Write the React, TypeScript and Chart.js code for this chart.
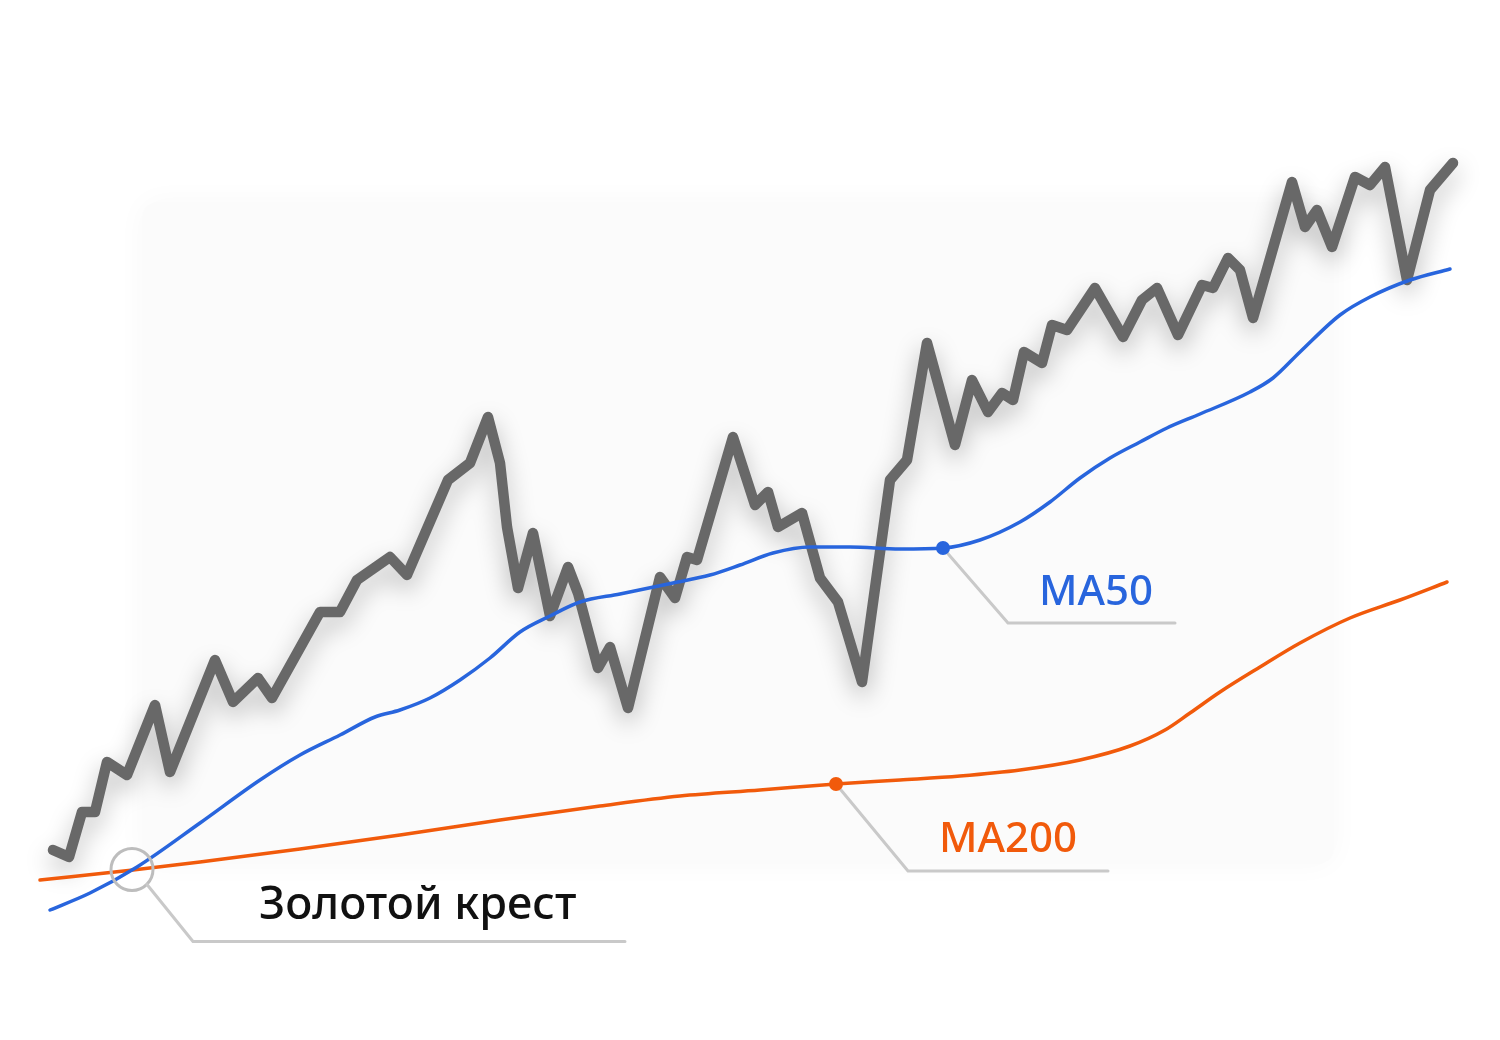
import React, { useEffect, useRef } from "react";
import { Chart, registerables } from "chart.js";

Chart.register(...registerables);

// Price (day, price)
const priceDays = [5.3, 6.9, 8.2, 9.5, 10.7, 12.7, 15.5, 17.0, 21.5, 23.3, 25.8, 27.2, 32.0, 34.0, 35.7, 39.0, 40.7, 44.8, 47.0, 48.8, 50.0, 50.7, 51.8, 53.3, 55.0, 56.8, 57.8, 59.8, 61.0, 62.8, 66.0, 67.5, 68.7, 69.7, 73.3, 75.5, 76.8, 77.8, 80.2, 82.0, 83.8, 86.2, 89.0, 90.7, 92.7, 95.5, 97.2, 98.8, 100.2, 101.3, 102.4, 104.2, 105.2, 106.7, 109.5, 112.3, 114.2, 115.7, 117.8, 120.2, 121.3, 122.8, 124.0, 125.3, 129.2, 130.5, 131.7, 133.2, 135.5, 137.0, 138.5, 140.7, 143.0, 145.3];
const priceValues = [19.0, 18.3, 22.8, 22.8, 27.8, 26.5, 33.5, 26.8, 38.0, 33.8, 36.2, 34.2, 42.8, 42.8, 46.0, 48.3, 46.5, 56.0, 57.7, 62.3, 57.7, 51.3, 45.2, 50.7, 42.4, 47.3, 44.7, 37.2, 39.3, 33.2, 46.3, 44.2, 48.3, 48.0, 60.3, 53.5, 54.8, 51.3, 52.7, 46.2, 43.8, 35.8, 56.0, 58.0, 69.7, 59.5, 66.0, 62.8, 64.7, 64.0, 68.8, 67.7, 71.5, 71.0, 75.2, 70.3, 74.0, 75.2, 70.5, 75.5, 75.2, 78.2, 77.0, 72.2, 85.8, 81.3, 83.0, 79.3, 86.3, 85.5, 87.3, 76.0, 85.0, 87.7];

// MA50
const ma50Days = [5.0, 9.0, 13.7, 20.0, 26.0, 30.0, 34.0, 37.5, 40.0, 43.0, 46.0, 49.0, 52.0, 55.0, 58.0, 62.0, 67.3, 71.0, 74.0, 77.3, 81.0, 85.0, 90.0, 94.3, 98.0, 102.0, 105.0, 108.0, 111.0, 114.0, 116.7, 120.0, 125.0, 127.3, 130.0, 134.0, 137.0, 141.0, 145.0];
const ma50Values = [13.0, 14.7, 17.3, 21.7, 26.0, 28.5, 30.5, 32.3, 33.0, 34.2, 36.0, 38.2, 40.8, 42.4, 43.8, 44.6, 45.7, 46.5, 47.5, 48.7, 49.3, 49.3, 49.1, 49.2, 50.0, 51.8, 53.8, 56.2, 58.2, 59.8, 61.2, 62.6, 64.8, 66.2, 68.8, 72.5, 74.3, 76.0, 77.1];

// MA200
const ma200Days = [4.0, 13.3, 20.0, 30.0, 40.0, 50.0, 60.0, 68.0, 76.0, 83.6, 90.0, 96.0, 102.0, 108.0, 113.0, 116.5, 119.0, 122.0, 126.0, 130.0, 135.0, 140.0, 144.7];
const ma200Values = [16.0, 17.0, 17.8, 19.1, 20.5, 22.0, 23.4, 24.4, 25.0, 25.6, 26.0, 26.4, 27.0, 28.0, 29.4, 31.0, 32.7, 34.8, 37.3, 39.7, 42.2, 44.0, 45.8];

// Annotation markers
const crossPoint = { day: 13.2, price: 17.05 };
const ma50Marker = { day: 94.3, price: 49.2 };
const ma200Marker = { day: 83.6, price: 25.6 };

const labelCross = "Золотой крест";
const labelMa50 = "MA50";
const labelMa200 = "MA200";

const GRAY = "#686868";
const BLUE = "#2865dd";
const ORANGE = "#f15a0b";
const LEADER = "#c9c9c9";
const FONT = '"Noto Sans", "Open Sans", sans-serif';

const toPts = (xs: number[], ys: number[]) => xs.map((x, i) => ({ x, y: ys[i] }));

export default function App() {
  const ref = useRef<HTMLCanvasElement | null>(null);

  useEffect(() => {
    if (!ref.current) return;

    const backgroundPanel = {
      id: "backgroundPanel",
      beforeDraw(chart: any) {
        const ctx = chart.ctx;
        ctx.save();
        ctx.fillStyle = "#ffffff";
        ctx.fillRect(0, 0, chart.width, chart.height);
        ctx.shadowColor = "rgba(0,0,0,0.03)";
        ctx.shadowBlur = 30;
        ctx.fillStyle = "#fbfbfb";
        ctx.beginPath();
        (ctx as any).roundRect(142, 202, 1192, 662, 16);
        ctx.fill();
        ctx.restore();
      },
    };

    const priceShadow = {
      id: "priceShadow",
      beforeDatasetDraw(chart: any, args: any) {
        if (args.index !== 0) return;
        const ctx = chart.ctx;
        ctx.save();
        ctx.shadowColor = "rgba(0,0,0,0.28)";
        ctx.shadowBlur = 24;
        ctx.shadowOffsetY = 10;
      },
      afterDatasetDraw(chart: any, args: any) {
        if (args.index !== 0) return;
        chart.ctx.restore();
      },
    };

    const annotations = {
      id: "annotations",
      afterDatasetsDraw(chart: any) {
        const ctx = chart.ctx;
        const xs = chart.scales.x;
        const ys = chart.scales.y;
        ctx.save();
        ctx.lineCap = "round";
        ctx.lineJoin = "round";

        // Golden cross
        const cx = xs.getPixelForValue(crossPoint.day);
        const cy = ys.getPixelForValue(crossPoint.price);
        ctx.strokeStyle = "#bdbdbd";
        ctx.lineWidth = 3;
        ctx.beginPath();
        ctx.arc(cx, cy, 21, 0, Math.PI * 2);
        ctx.stroke();
        ctx.strokeStyle = LEADER;
        ctx.beginPath();
        ctx.moveTo(cx + 15, cy + 15);
        ctx.lineTo(cx + 61, cy + 72);
        ctx.lineTo(cx + 493, cy + 72);
        ctx.stroke();
        ctx.fillStyle = "#111111";
        ctx.font = `500 45px ${FONT}`;
        ctx.textBaseline = "middle";
        ctx.textAlign = "left";
        ctx.fillText(labelCross, cx + 127, cy + 37);

        // MA50
        const bx = xs.getPixelForValue(ma50Marker.day);
        const by = ys.getPixelForValue(ma50Marker.price);
        ctx.strokeStyle = LEADER;
        ctx.beginPath();
        ctx.moveTo(bx, by);
        ctx.lineTo(bx + 65, by + 75);
        ctx.lineTo(bx + 232, by + 75);
        ctx.stroke();
        ctx.fillStyle = BLUE;
        ctx.beginPath();
        ctx.arc(bx, by, 7, 0, Math.PI * 2);
        ctx.fill();
        ctx.font = `500 42px ${FONT}`;
        ctx.fillText(labelMa50, bx + 96, by + 45);

        // MA200
        const ox = xs.getPixelForValue(ma200Marker.day);
        const oy = ys.getPixelForValue(ma200Marker.price);
        ctx.strokeStyle = LEADER;
        ctx.beginPath();
        ctx.moveTo(ox, oy);
        ctx.lineTo(ox + 72, oy + 87);
        ctx.lineTo(ox + 272, oy + 87);
        ctx.stroke();
        ctx.fillStyle = ORANGE;
        ctx.beginPath();
        ctx.arc(ox, oy, 7, 0, Math.PI * 2);
        ctx.fill();
        ctx.font = `500 42px ${FONT}`;
        ctx.fillText(labelMa200, ox + 103, oy + 56);

        ctx.restore();
      },
    };

    const chart = new Chart(ref.current, {
      type: "line",
      data: {
        datasets: [
          {
            label: "Price",
            data: toPts(priceDays, priceValues),
            borderColor: GRAY,
            borderWidth: 10.5,
            borderJoinStyle: "round",
            borderCapStyle: "round",
            pointRadius: 0,
            tension: 0,
            order: 3,
          },
          {
            label: "MA200",
            data: toPts(ma200Days, ma200Values),
            borderColor: ORANGE,
            borderWidth: 3.5,
            borderCapStyle: "round",
            pointRadius: 0,
            cubicInterpolationMode: "monotone",
            order: 2,
          },
          {
            label: "MA50",
            data: toPts(ma50Days, ma50Values),
            borderColor: BLUE,
            borderWidth: 3.5,
            borderCapStyle: "round",
            pointRadius: 0,
            cubicInterpolationMode: "monotone",
            order: 1,
          },
        ],
      },
      options: {
        animation: false,
        responsive: false,
        maintainAspectRatio: false,
        layout: { padding: 0 },
        plugins: {
          legend: { display: false },
          tooltip: { enabled: false },
          title: { display: false },
        },
        scales: {
          x: { type: "linear", min: 0, max: 150, display: false },
          y: { type: "linear", min: 0, max: 104, display: false },
        },
      } as any,
      plugins: [backgroundPanel, priceShadow, annotations],
    });

    return () => chart.destroy();
  }, []);

  return (
    <div style={{ position: "absolute", left: 0, top: 0, width: 1500, height: 1040, background: "#fff" }}>
      <canvas ref={ref} width={1500} height={1040} style={{ display: "block" }} />
    </div>
  );
}
